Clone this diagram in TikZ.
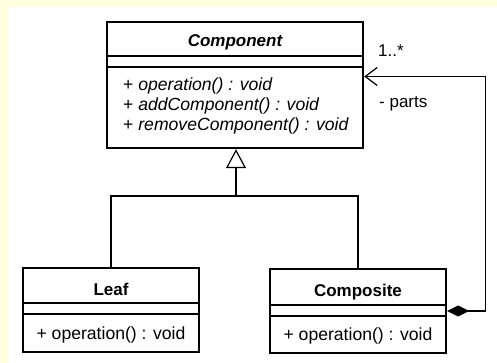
\documentclass[tikz,border=0pt]{standalone}
\usepackage{fontspec}
\setmainfont{Liberation Sans}
\usetikzlibrary{arrows.meta,calc}
\definecolor{pagebg}{HTML}{FFFFE0}
\tikzset{
  classbox/.style={draw, line width=2.4pt, rectangle, inner sep=0pt},
  divider/.style={line width=1.1pt},
  link/.style={line width=1.2pt},
  title/.style={font=\fontsize{17}{20}\selectfont\bfseries, inner sep=0pt, anchor=base},
  member/.style={font=\fontsize{17.6}{20}\selectfont, inner sep=0pt},
  rolelabel/.style={font=\fontsize{17}{20}\selectfont, inner sep=0pt, anchor=base west},
}
\begin{document}
\begin{tikzpicture}[x=1pt, y=-1pt]
  % page background with a pale frame on top and left
  \fill[pagebg] (0,0) rectangle (497,363);
  \fill[white] (9,7) rectangle (497,363);
  \useasboundingbox (0,0) rectangle (497,363);

  % class boxes
  \node[classbox, minimum width=256pt, minimum height=126pt] (comp) at (235,85) {};
  \node[classbox, minimum width=176pt, minimum height=84pt] (leaf) at (111,310) {};
  \node[classbox, minimum width=176pt, minimum height=84pt] (composite) at (358,311) {};

  % Component compartments
  \node[title] (comptitle) at (235,47) {\itshape Component};
  \draw[divider] (comp.west |- 0,56) -- (comp.east |- 0,56);
  \draw[divider] (comp.west |- 0,67) -- (comp.east |- 0,67);
  \node[member, anchor=base west] (op1) at (123,91) {+ \itshape operation() : void};
  \node[member, anchor=base west] (op2) at (123,111) {+ \itshape addComponent() : void};
  \node[member, anchor=base west] (op3) at (123,131) {+ \itshape removeComponent() : void};

  % Leaf compartments
  \node[title] (leaftitle) at (111,295) {Leaf};
  \draw[divider] (leaf.west |- 0,303) -- (leaf.east |- 0,303);
  \draw[divider] (leaf.west |- 0,314) -- (leaf.east |- 0,314);
  \node[member, anchor=base] (leafop) at (111,339) {+ operation() : void};

  % Composite compartments
  \node[title] (comptitle2) at (358,296) {Composite};
  \draw[divider] (composite.west |- 0,305) -- (composite.east |- 0,305);
  \draw[divider] (composite.west |- 0,316) -- (composite.east |- 0,316);
  \node[member, anchor=base] (compositeop) at (358,340) {+ operation() : void};

  % generalization tree
  \coordinate (fork) at (236,196);
  \draw[link] (leaf.north) |- (fork) -| (composite.north);
  \draw[link, -{Triangle[open, length=19pt, width=20pt, line width=1.2pt]}]
    (fork) -- (comp.south -| fork);

  % composition back to Component
  \draw[link, {Diamond[length=22pt, width=11pt]}-{Straight Barb[length=12pt, width=18pt, line width=1.2pt]}]
    (composite.east) -- ++(38,0) |- ([yshift=8.5pt]comp.east);

  % role labels
  \node[rolelabel] (mult) at (378,57) {1..*};
  \node[rolelabel] (role) at (379,108) {- parts};
\end{tikzpicture}
\end{document}
